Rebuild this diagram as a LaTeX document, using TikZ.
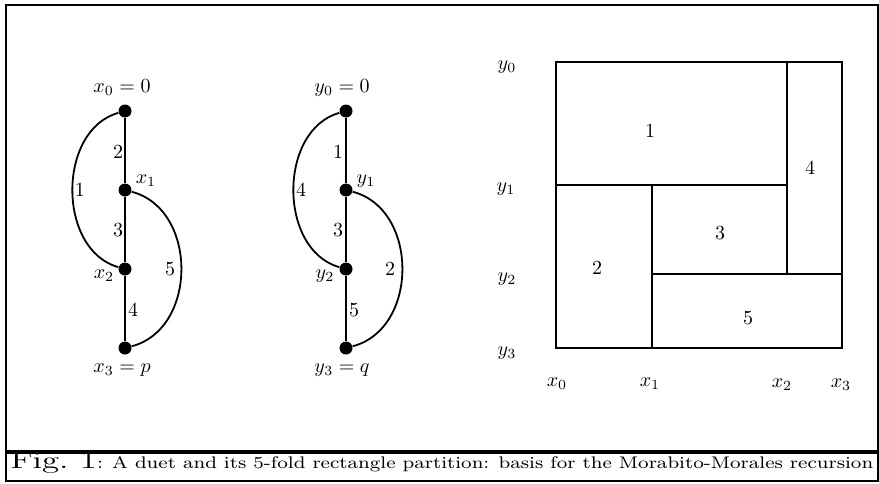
\documentclass[tikz,border=0pt]{standalone}
\usepackage{graphicx}
\begin{document}
\begin{tikzpicture}[x=0.5pt,y=-0.5pt,
  dot/.style={circle,fill=black,inner sep=0pt,minimum size=6.5pt},
  edge/.style={line width=0.9pt},
  rline/.style={line width=0.85pt},
  lbl/.style={inner sep=0pt},
  frame/.style={line width=1pt},
  sep/.style={line width=2pt}]
\useasboundingbox (0,0) rectangle (879,483);
% frame
\draw[frame] (6,5) rectangle (877.5,481);
\draw[sep] (6,452) -- (877.5,452);
% graph 1
\node[dot] (a0) at (125,111) {};
\node[dot] (a1) at (125,190) {};
\node[dot] (a2) at (125,269) {};
\node[dot] (a3) at (125,348) {};
\draw[edge] (a0) -- (a1) -- (a2) -- (a3);
\draw[edge] (a0) .. controls +(-68,19) and +(-68,-19) .. (a2);
\draw[edge] (a1) .. controls +(73,19) and +(73,-19) .. (a3);
\node[lbl] (la0) at (122,88) {$x_0 = 0$};
\node[lbl] (la1) at (146,181) {$x_1$};
\node[lbl] (la2) at (104,276) {$x_2$};
\node[lbl] (la3) at (122,370) {$x_3 = p$};
\node[lbl] (ea2) at (118,152) {2};
\node[lbl] (ea1) at (80,190) {1};
\node[lbl] (ea3) at (118,230) {3};
\node[lbl] (ea5) at (170,269) {5};
\node[lbl] (ea4) at (133,310) {4};
% graph 2
\node[dot] (b0) at (346,111) {};
\node[dot] (b1) at (346,190) {};
\node[dot] (b2) at (346,269) {};
\node[dot] (b3) at (346,348) {};
\draw[edge] (b0) -- (b1) -- (b2) -- (b3);
\draw[edge] (b0) .. controls +(-68,19) and +(-68,-19) .. (b2);
\draw[edge] (b1) .. controls +(73,19) and +(73,-19) .. (b3);
\node[lbl] (lb0) at (342,88) {$y_0 = 0$};
\node[lbl] (lb1) at (366,181) {$y_1$};
\node[lbl] (lb2) at (325,276) {$y_2$};
\node[lbl] (lb3) at (342,370) {$y_3 = q$};
\node[lbl] (eb1) at (338,152) {1};
\node[lbl] (eb4) at (301,190) {4};
\node[lbl] (eb3) at (338,230) {3};
\node[lbl] (eb2) at (390,269) {2};
\node[lbl] (eb5) at (354,310) {5};
% rectangle partition
\draw[rline] (556,62) rectangle (842,348);
\draw[rline] (556,185) -- (787,185);
\draw[rline] (652,185) -- (652,348);
\draw[rline] (787,62) -- (787,274);
\draw[rline] (652,274) -- (842,274);
\node[lbl] (r1) at (650,131) {1};
\node[lbl] (r4) at (810,168) {4};
\node[lbl] (r3) at (720,233) {3};
\node[lbl] (r2) at (597,268) {2};
\node[lbl] (r5) at (748,318) {5};
\node[lbl] (y0) at (507,67) {$y_0$};
\node[lbl] (y1) at (506,189) {$y_1$};
\node[lbl] (y2) at (507,279) {$y_2$};
\node[lbl] (y3) at (507,353) {$y_3$};
\node[lbl] (x0) at (557,384) {$x_0$};
\node[lbl] (x1) at (650,384) {$x_1$};
\node[lbl] (x2) at (782,385) {$x_2$};
\node[lbl] (x3) at (841,385) {$x_3$};
% caption
\node[lbl,anchor=base west] (cap) at (10,468) {\scalebox{1.45}[1.0]{\large Fig.~1}\scalebox{1.24}[1.05]{\footnotesize: A duet and its 5-fold rectangle partition: basis for the Morabito-Morales recursion}};
\end{tikzpicture}
\end{document}
